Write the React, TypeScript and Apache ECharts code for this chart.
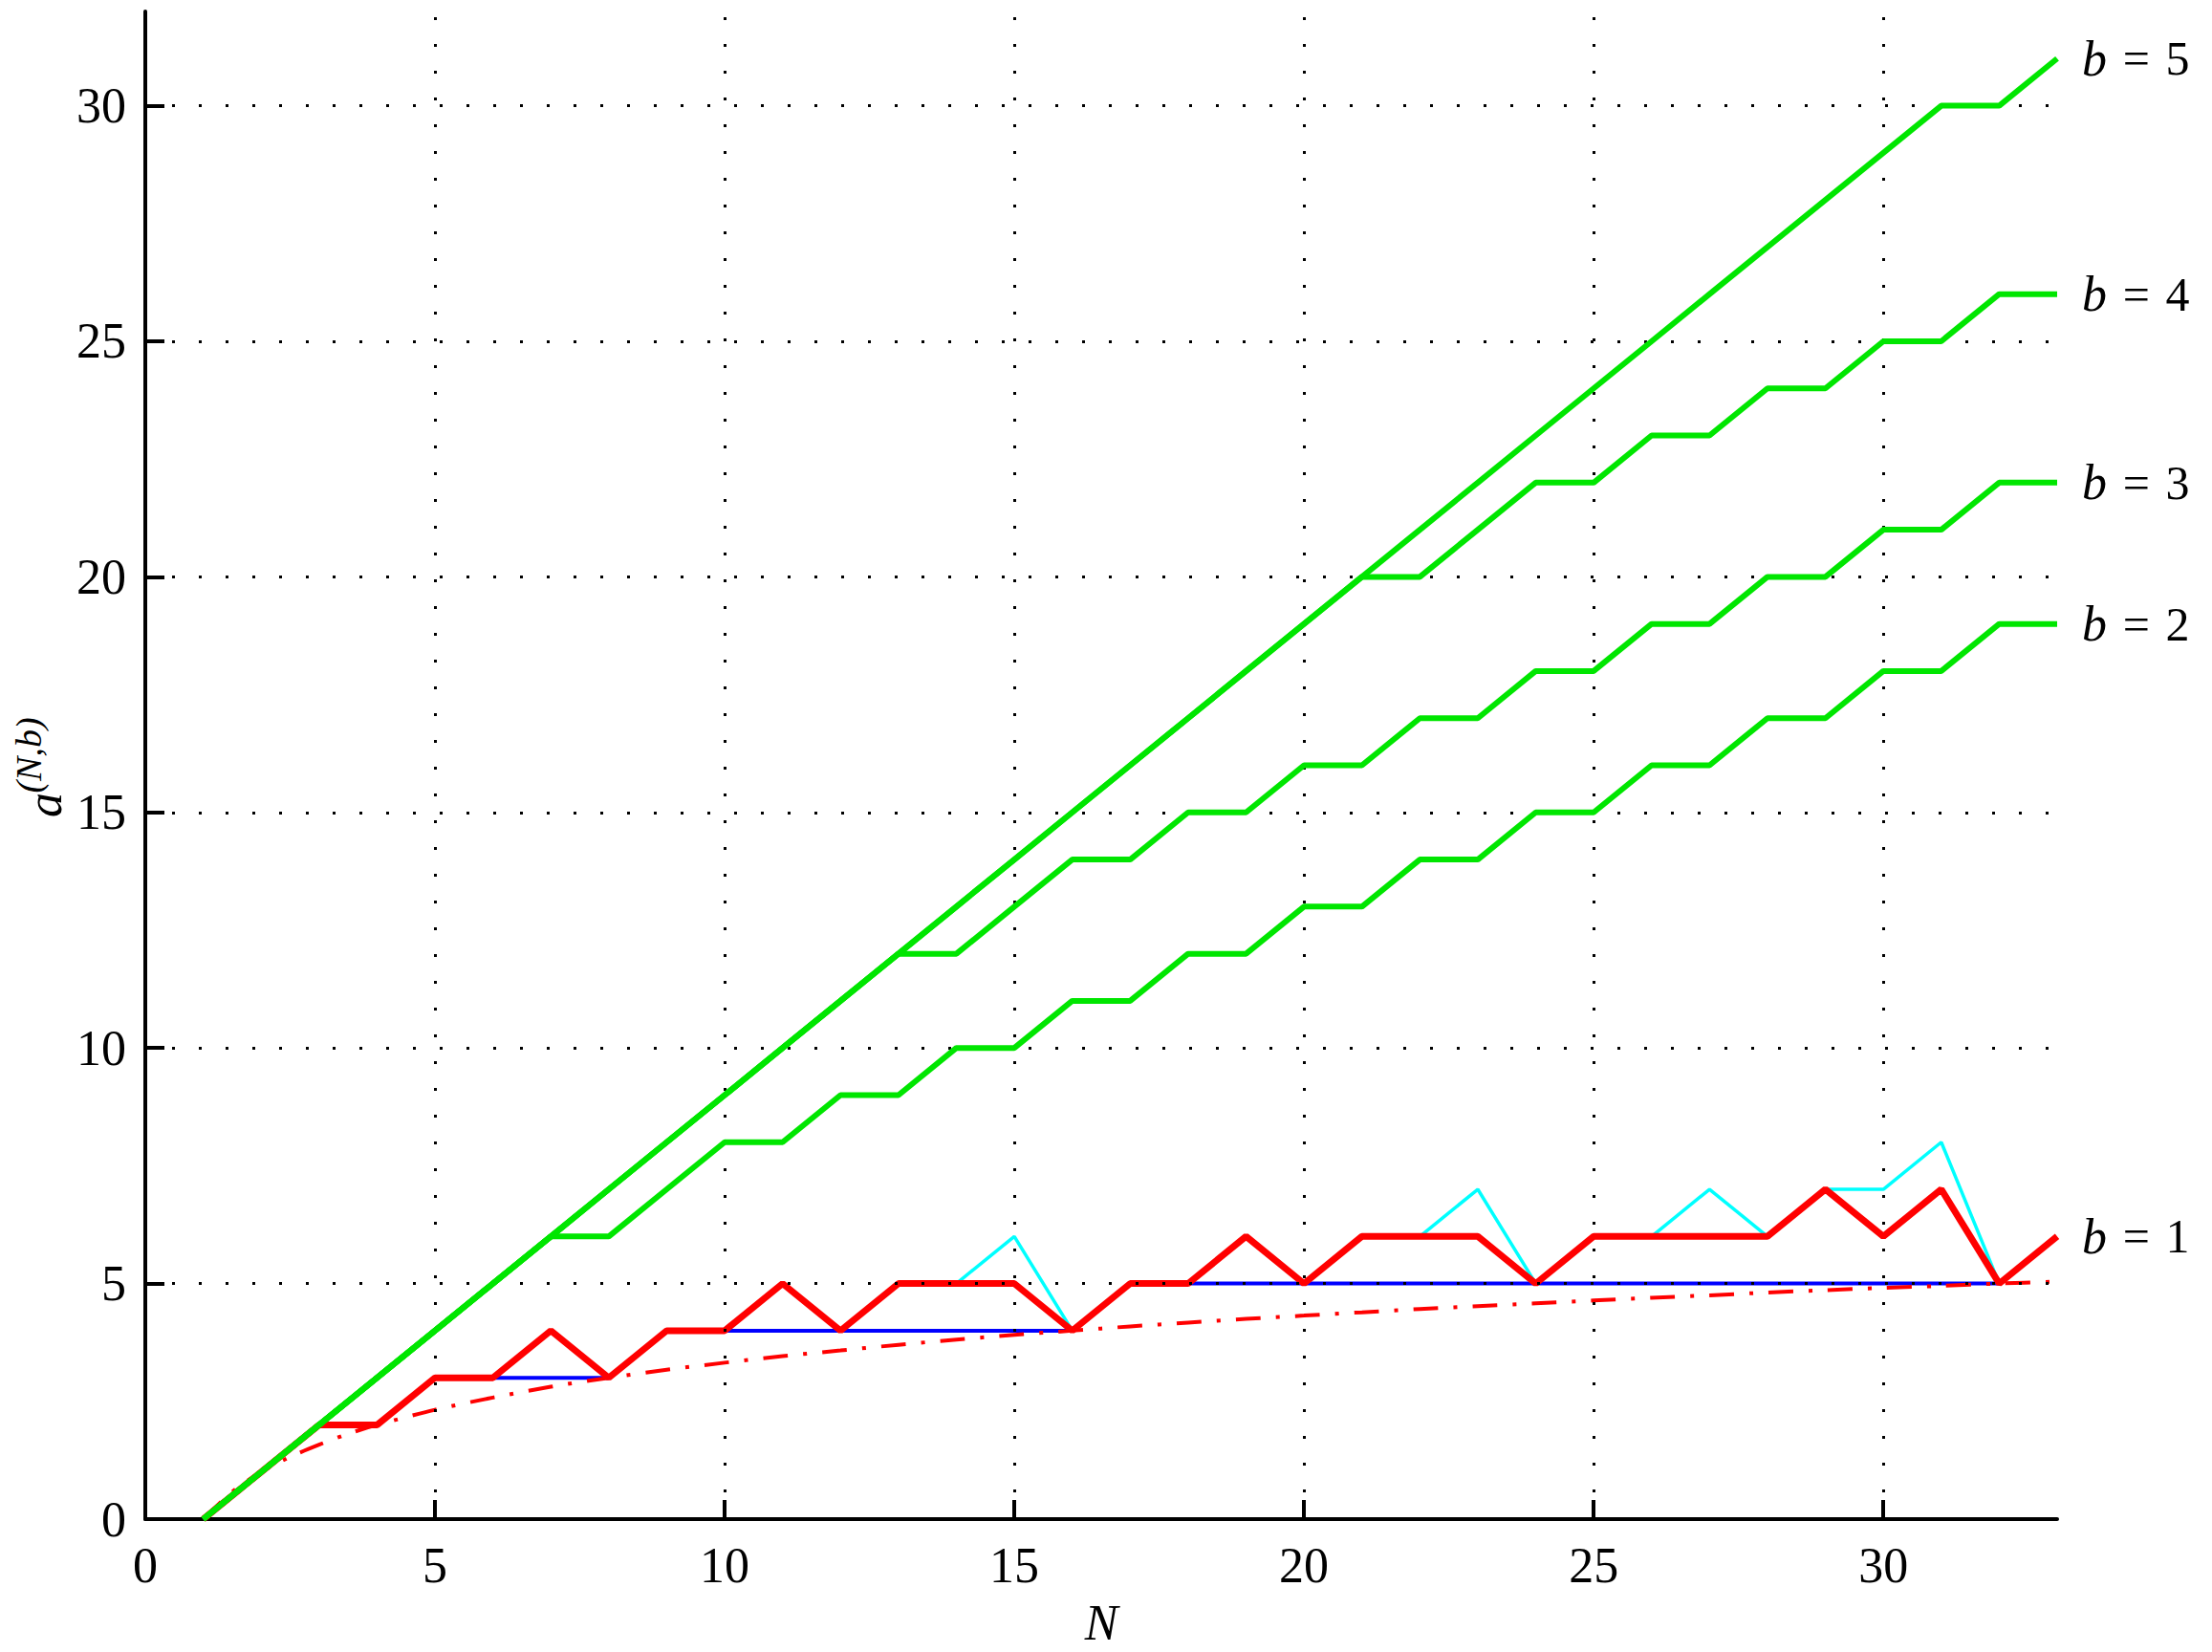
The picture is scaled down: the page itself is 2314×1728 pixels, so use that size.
import { useEffect, useRef } from 'react'
import * as echarts from 'echarts'

// N = 1 .. 33
const nValues = [
  1, 2, 3, 4, 5, 6, 7, 8, 9, 10, 11, 12, 13, 14, 15, 16, 17,
  18, 19, 20, 21, 22, 23, 24, 25, 26, 27, 28, 29, 30, 31, 32, 33
]

const b5 = [
  0, 1, 2, 3, 4, 5, 6, 7, 8, 9, 10, 11, 12, 13, 14, 15, 16,
  17, 18, 19, 20, 21, 22, 23, 24, 25, 26, 27, 28, 29, 30, 30, 31
]
const b4 = [
  0, 1, 2, 3, 4, 5, 6, 7, 8, 9, 10, 11, 12, 13, 14, 15, 16,
  17, 18, 19, 20, 20, 21, 22, 22, 23, 23, 24, 24, 25, 25, 26, 26
]
const b3 = [
  0, 1, 2, 3, 4, 5, 6, 7, 8, 9, 10, 11, 12, 12, 13, 14, 14,
  15, 15, 16, 16, 17, 17, 18, 18, 19, 19, 20, 20, 21, 21, 22, 22
]
const b2 = [
  0, 1, 2, 3, 4, 5, 6, 6, 7, 8, 8, 9, 9, 10, 10, 11, 11,
  12, 12, 13, 13, 14, 14, 15, 15, 16, 16, 17, 17, 18, 18, 19, 19
]
const b1 = [
  0, 1, 2, 2, 3, 3, 4, 3, 4, 4, 5, 4, 5, 5, 5, 4, 5,
  5, 6, 5, 6, 6, 6, 5, 6, 6, 6, 6, 7, 6, 7, 5, 6
]
const b1Alt = [
  0, 1, 2, 2, 3, 3, 4, 3, 4, 4, 5, 4, 5, 5, 6, 4, 5,
  5, 6, 5, 6, 6, 7, 5, 6, 6, 7, 6, 7, 7, 8, 5
]
const lowerStep = [
  0, 1, 2, 2, 3, 3, 3, 3, 4, 4, 4, 4, 4, 4, 4, 4, 5,
  5, 5, 5, 5, 5, 5, 5, 5, 5, 5, 5, 5, 5, 5, 5
]

// dash-dot curve is sampled a little finer at the start
const curveN = [
  1, 1.5, 2, 2.5, 3, 3.5, 4, 5, 6, 7, 8, 9, 10, 11, 12, 13, 14, 15, 16, 17,
  18, 19, 20, 21, 22, 23, 24, 25, 26, 27, 28, 29, 30, 31, 32, 33
]
const lowerCurve = [
  0, 0.58, 1, 1.32, 1.58, 1.81, 2, 2.32, 2.58, 2.81, 3, 3.17, 3.32, 3.46, 3.58, 3.7, 3.81, 3.91, 4, 4.09,
  4.17, 4.25, 4.32, 4.39, 4.46, 4.52, 4.58, 4.64, 4.7, 4.75, 4.81, 4.86, 4.91, 4.95, 5, 5.04
]

const xTicks = [0, 5, 10, 15, 20, 25, 30]
const yTicks = [0, 5, 10, 15, 20, 25, 30]

const pairs = (ys: number[], xs: number[] = nValues) => ys.map((y, i) => [xs[i], y])

const SERIF = 'Liberation Serif'
const GREEN = '#00e600'

export default function App() {
  const chartRef = useRef<HTMLDivElement>(null)

  useEffect(() => {
    document.body.style.margin = '0'
    const host = chartRef.current
    if (!host) return
    const chart = echarts.init(host, null, { renderer: 'svg' })

    const gridDots = { color: '#000', width: 3, type: [3, 25] as number[] }

    const endLabel = (name: string) => ({
      show: true,
      distance: 26,
      formatter: `{i|b} \u200a=\u200a ${name}`,
      color: '#000',
      fontFamily: SERIF,
      fontSize: 50,
      rich: { i: { fontStyle: 'italic', fontFamily: SERIF, fontSize: 52, color: '#000' } }
    })

    const green = (data: number[], name: string) => ({
      type: 'line',
      data: pairs(data),
      symbol: 'none',
      z: 5,
      lineStyle: { color: GREEN, width: 6 },
      endLabel: endLabel(name)
    })

    const option: echarts.EChartsOption = {
      animation: false,
      backgroundColor: '#fff',
      textStyle: { fontFamily: SERIF },
      grid: { left: 152, right: 162, top: 12, bottom: 139 },
      xAxis: {
        type: 'value',
        min: 0,
        max: 33,
        name: 'N',
        nameLocation: 'middle',
        nameGap: 82,
        nameTextStyle: { fontFamily: SERIF, fontStyle: 'italic', fontSize: 52, color: '#000' },
        axisLine: { lineStyle: { color: '#000', width: 4 } },
        axisTick: { inside: true, length: 20, lineStyle: { color: '#000', width: 4 }, customValues: xTicks },
        axisLabel: { customValues: xTicks, margin: 22, fontFamily: SERIF, fontSize: 52, color: '#000' },
        splitLine: { show: false }
      },
      yAxis: {
        type: 'value',
        min: 0,
        max: 32,
        axisLine: { show: true, lineStyle: { color: '#000', width: 4 } },
        axisTick: { show: true, inside: true, length: 20, lineStyle: { color: '#000', width: 4 }, customValues: yTicks },
        axisLabel: { customValues: yTicks, margin: 20, fontFamily: SERIF, fontSize: 52, color: '#000' },
        splitLine: { show: false }
      },
      graphic: [
        {
          type: 'text',
          x: 46,
          y: 842,
          rotation: Math.PI / 2,
          style: {
            text: 'a',
            fontFamily: SERIF,
            fontStyle: 'italic',
            fontSize: 52,
            fill: '#000',
            align: 'center',
            verticalAlign: 'middle'
          }
        },
        {
          type: 'text',
          x: 30,
          y: 790,
          rotation: Math.PI / 2,
          style: {
            text: '(N,b)',
            fontFamily: SERIF,
            fontStyle: 'italic',
            fontSize: 38,
            fill: '#000',
            align: 'center',
            verticalAlign: 'middle'
          }
        }
      ],
      series: [
        {
          type: 'line',
          data: [],
          silent: true,
          markLine: {
            silent: true,
            symbol: 'none',
            label: { show: false },
            lineStyle: gridDots,
            data: [
              ...xTicks.filter((v) => v > 0).map((v) => ({ xAxis: v })),
              ...yTicks.filter((v) => v > 0).map((v) => ({ yAxis: v }))
            ]
          }
        },
        {
          type: 'line',
          data: pairs(lowerStep),
          symbol: 'none',
          z: 2,
          lineStyle: { color: '#0000ff', width: 4 }
        },
        {
          type: 'line',
          data: pairs(b1Alt),
          symbol: 'none',
          z: 2,
          lineStyle: { color: '#00ffff', width: 3.5 }
        },
        {
          type: 'line',
          data: pairs(lowerCurve, curveN),
          symbol: 'none',
          smooth: 0.3,
          z: 3,
          lineStyle: { color: '#ff0000', width: 4, type: [26, 16, 4, 16] }
        },
        {
          type: 'line',
          data: pairs(b1),
          symbol: 'none',
          z: 4,
          lineStyle: { color: '#ff0000', width: 7 },
          endLabel: endLabel('1')
        },
        green(b2, '2'),
        green(b3, '3'),
        green(b4, '4'),
        green(b5, '5')
      ]
    }

    chart.setOption(option)
    return () => chart.dispose()
  }, [])

  return <div ref={chartRef} style={{ width: 2314, height: 1728 }} />
}
